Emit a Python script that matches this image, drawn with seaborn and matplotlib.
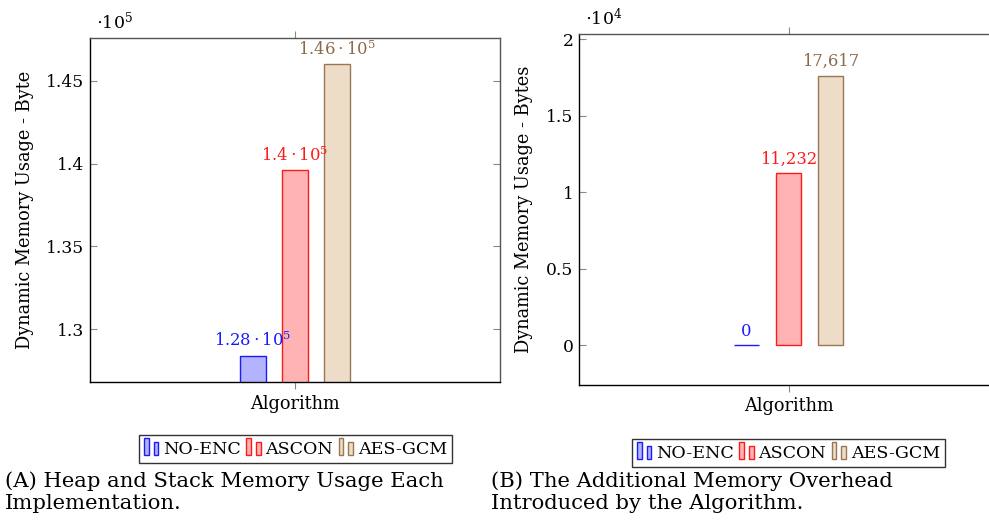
import matplotlib
matplotlib.use("Agg")
import matplotlib.pyplot as plt
import pandas as pd
import seaborn as sns
from matplotlib.patches import Rectangle, Patch
from matplotlib.legend_handler import HandlerBase

# ---- data -------------------------------------------------------------
implementations = ["NO-ENC", "ASCON", "AES-GCM"]
total_memory = [128400, 139600, 146000]        # heap + stack, bytes
overhead_memory = [0, 11232, 17617]            # extra bytes over NO-ENC

left_yticks = [130000, 135000, 140000, 145000]
left_yticklabels = ["1.3", "1.35", "1.4", "1.45"]
right_yticks = [0, 5000, 10000, 15000, 20000]
right_yticklabels = ["0", "0.5", "1", "1.5", "2"]

caption_a = ["(A) Heap and Stack Memory Usage Each", "Implementation."]
caption_b = ["(B) The Additional Memory Overhead", "Introduced by the Algorithm."]

fill_colors = ["#b3b3ff", "#ffb3b3", "#ecdcc8"]
edge_colors = ["#1a1aff", "#ff1a1a", "#9a7652"]
label_colors = ["#1a1aff", "#ff1a1a", "#8c6a48"]

# ---- style ------------------------------------------------------------
sns.set_theme(style="white")
plt.rcParams["font.family"] = ["DejaVu Serif"]
plt.rcParams["mathtext.fontset"] = "dejavuserif"
plt.rcParams["text.color"] = "black"
plt.rcParams["axes.labelcolor"] = "black"

W, H = 989, 528
fig = plt.figure(figsize=(W / 100, H / 100), dpi=100)


def axes_px(left, top, right, bottom):
    return fig.add_axes([left / W, 1 - bottom / H, (right - left) / W, (bottom - top) / H])


class TwoBarHandler(HandlerBase):
    """Legend key made of two small bars, like a pgfplots ybar legend."""

    def create_artists(self, legend, orig_handle, xdescent, ydescent,
                       width, height, fontsize, trans):
        fc = orig_handle.get_facecolor()
        ec = orig_handle.get_edgecolor()
        bw = width * 0.3
        r1 = Rectangle((-xdescent, -ydescent - 0.1 * height), bw, height * 1.35,
                       facecolor=fc, edgecolor=ec, lw=1.0, transform=trans)
        r2 = Rectangle((-xdescent + width * 0.62, -ydescent - 0.1 * height), bw, height * 1.0,
                       facecolor=fc, edgecolor=ec, lw=1.0, transform=trans)
        return [r1, r2]


def sci_label(v):
    return r"$%s\cdot10^{5}$" % format(round(v / 1e5, 2), "g")


def draw_panel(ax, values, labels, ylim, xlim, yticks, yticklabels, ylabel,
               ylabel_x, xlabel_y):
    df = pd.DataFrame({"Algorithm": [""] * len(values),
                       "Implementation": implementations,
                       "Memory": values})
    sns.barplot(data=df, x="Algorithm", y="Memory", hue="Implementation",
                hue_order=implementations, palette=fill_colors, saturation=1,
                width=0.8, gap=0.4, errorbar=None, legend=False, ax=ax)
    for cont, ec, lc, lab in zip(ax.containers, edge_colors, label_colors, labels):
        for bar in cont:
            bar.set_edgecolor(ec)
            bar.set_linewidth(1.0)
        ax.bar_label(cont, labels=[lab], padding=4, color=lc, fontsize=11.8)

    ax.set_ylim(*ylim)
    ax.set_xlim(*xlim)
    ax.set_xticks([0])
    ax.set_xticklabels([])
    ax.set_yticks(yticks)
    ax.set_yticklabels(yticklabels)
    ax.tick_params(axis="x", direction="out", bottom=True, top=True,
                   length=5, width=0.8, color="#888888")
    ax.tick_params(axis="y", direction="in", left=True, right=True,
                   length=5, width=0.8, color="#888888", labelsize=12.3,
                   labelcolor="black", pad=4)
    ax.set_xlabel("Algorithm", fontsize=12.8, color="black")
    ax.set_ylabel(ylabel, fontsize=12.8, color="black")
    ax.yaxis.label.set_va("center")
    ax.xaxis.label.set_va("center")
    ax.yaxis.set_label_coords(ylabel_x, 0.5)
    ax.xaxis.set_label_coords(0.5, xlabel_y)
    for side in ["left", "bottom"]:
        ax.spines[side].set_color("black")
        ax.spines[side].set_linewidth(1.0)
    for side in ["top", "right"]:
        ax.spines[side].set_color("#555555")
        ax.spines[side].set_linewidth(1.0)


# left: total memory
ax1 = axes_px(90, 38, 500, 382)
draw_panel(ax1, total_memory, [sci_label(v) for v in total_memory],
           (126800, 147600), (-1.3, 1.3), left_yticks, left_yticklabels,
           "Dynamic Memory Usage - Byte", (25 - 90) / 410, (382 - 404) / 344)

# right: overhead
ax2 = axes_px(579, 34, 998, 385)
draw_panel(ax2, overhead_memory, [f"{v:,}" for v in overhead_memory],
           (-2610, 20330), (-1.33, 1.33), right_yticks, right_yticklabels,
           "Dynamic Memory Usage - Bytes", (524 - 579) / 419, (385 - 406) / 351)

fig.text(96 / W, 1 - 28 / H, r"$\cdot10^{5}$", fontsize=12.5, va="baseline")
fig.text(585 / W, 1 - 25 / H, r"$\cdot10^{4}$", fontsize=12.5, va="baseline")

# legends under each panel
handles = [Patch(facecolor=f, edgecolor=e) for f, e in zip(fill_colors, edge_colors)]
for cx, cy in [(295.5, 449), (788.5, 453)]:
    leg = fig.legend(handles, implementations, loc="center",
                     bbox_to_anchor=(cx / W, 1 - cy / H), ncol=3,
                     frameon=True, fancybox=False, edgecolor="black",
                     handler_map={Patch: TwoBarHandler()},
                     handlelength=0.9, handleheight=0.7, handletextpad=0.2,
                     columnspacing=0.3, borderpad=0.3, borderaxespad=0,
                     fontsize=12.6, labelcolor="black")
    leg.get_frame().set_linewidth(1.0)

# sub-captions
for x, lines in [(5, caption_a), (491, caption_b)]:
    fig.text(x / W, 1 - 487 / H, lines[0], fontsize=15.2, va="baseline", color="black")
    fig.text(x / W, 1 - 509 / H, lines[1], fontsize=15.2, va="baseline", color="black")

fig.savefig("out.png", dpi=100)
